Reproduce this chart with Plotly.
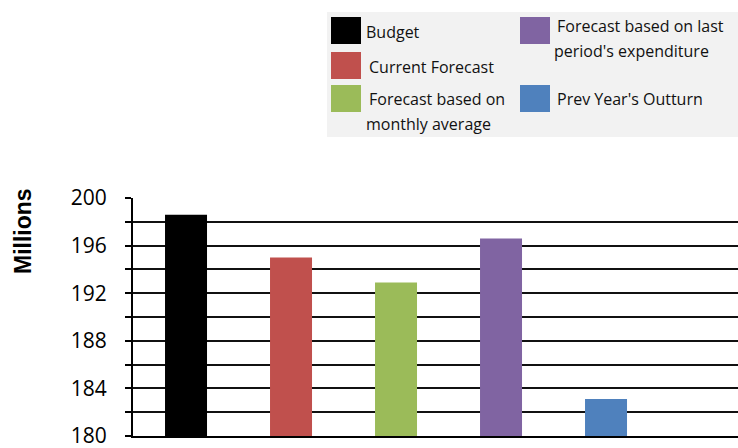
import plotly.graph_objects as go

# ---- data ----
categories = ["Budget", "Current Forecast", "Forecast based on monthly average",
              "Forecast based on last period's expenditure", "Prev Year's Outturn"]
values = [198.6, 195.0, 192.9, 196.6, 183.1]
colors = ["#000000", "#c0504d", "#9bbb59", "#8064a2", "#4f81bd"]
tick_vals = [180, 182, 184, 186, 188, 190, 192, 194, 196, 198, 200]
tick_text = ["180", "", "184", "", "188", "", "192", "", "196", "", "200"]
legend_lines = {
    "Budget": ["Budget"],
    "Current Forecast": ["Current Forecast"],
    "Forecast based on monthly average": ["Forecast based on", "monthly average"],
    "Forecast based on last period's expenditure": ["Forecast based on last", "period's expenditure"],
    "Prev Year's Outturn": ["Prev Year's Outturn"],
}

W, H = 738, 448
L, R, T, B = 133, 0, 198, 12
PW, PH = W - L - R, H - T - B

def px(x):
    return (x - L) / PW

def py(y):
    return (H - B - y) / PH

fig = go.Figure()
fig.add_trace(go.Bar(x=categories, y=values, marker=dict(color=colors, line=dict(width=0)),
                     width=0.4, showlegend=False))

shapes = []
annotations = []
# legend background
shapes.append(dict(type="rect", xref="paper", yref="paper", x0=px(327), x1=px(740),
                   y0=py(12), y1=py(137), fillcolor="#f2f2f2", line=dict(width=0), layer="above"))
pos = [
    (331, 17, 364, 32),
    (331, 52, 367, 67),
    (331, 85, 367, 99),
    (520, 17, 555, 26),
    (520, 85, 555, 99),
]
for cat, col, (sx, sy, tx, ty) in zip(categories, colors, pos):
    shapes.append(dict(type="rect", xref="paper", yref="paper", x0=px(sx), x1=px(sx + 30),
                       y0=py(sy), y1=py(sy + 27), fillcolor=col, line=dict(width=0), layer="above"))
    for i, line in enumerate(legend_lines[cat]):
        xx = tx if i == 0 else tx - 3
        annotations.append(dict(text=line, xref="paper", yref="paper", x=px(xx), y=py(ty + 25 * i),
                                xanchor="left", yanchor="middle", showarrow=False,
                                font=dict(family="Open Sans", size=16, color="#111111")))

annotations.append(dict(text="<b>Millions</b>", xref="paper", yref="paper", x=px(23), y=py(231),
                        xanchor="center", yanchor="middle", textangle=-90, showarrow=False,
                        font=dict(family="Liberation Sans", size=23, color="#000000")))

fig.update_layout(
    width=W, height=H,
    margin=dict(l=L, r=R, t=T, b=B, pad=0),
    paper_bgcolor="white", plot_bgcolor="white",
    shapes=shapes, annotations=annotations,
)
fig.update_xaxes(type="category", range=[-0.505, 5.257], showticklabels=False, ticks="",
                 showgrid=False, showline=True, linecolor="#000000", linewidth=2, zeroline=False)
fig.update_yaxes(range=[180, 200], tickvals=tick_vals, ticktext=tick_text, ticks="outside",
                 ticklen=6, tickwidth=2, tickcolor="#000000", showline=True, linecolor="#000000",
                 linewidth=2, showgrid=True, gridcolor="#111111", gridwidth=2, zeroline=False,
                 ticklabelstandoff=14, ticklabelshift=0, ticklabeloverflow="allow",
                 tickfont=dict(family="Open Sans", size=21, color="#000000"))

fig.write_html("out.html")
